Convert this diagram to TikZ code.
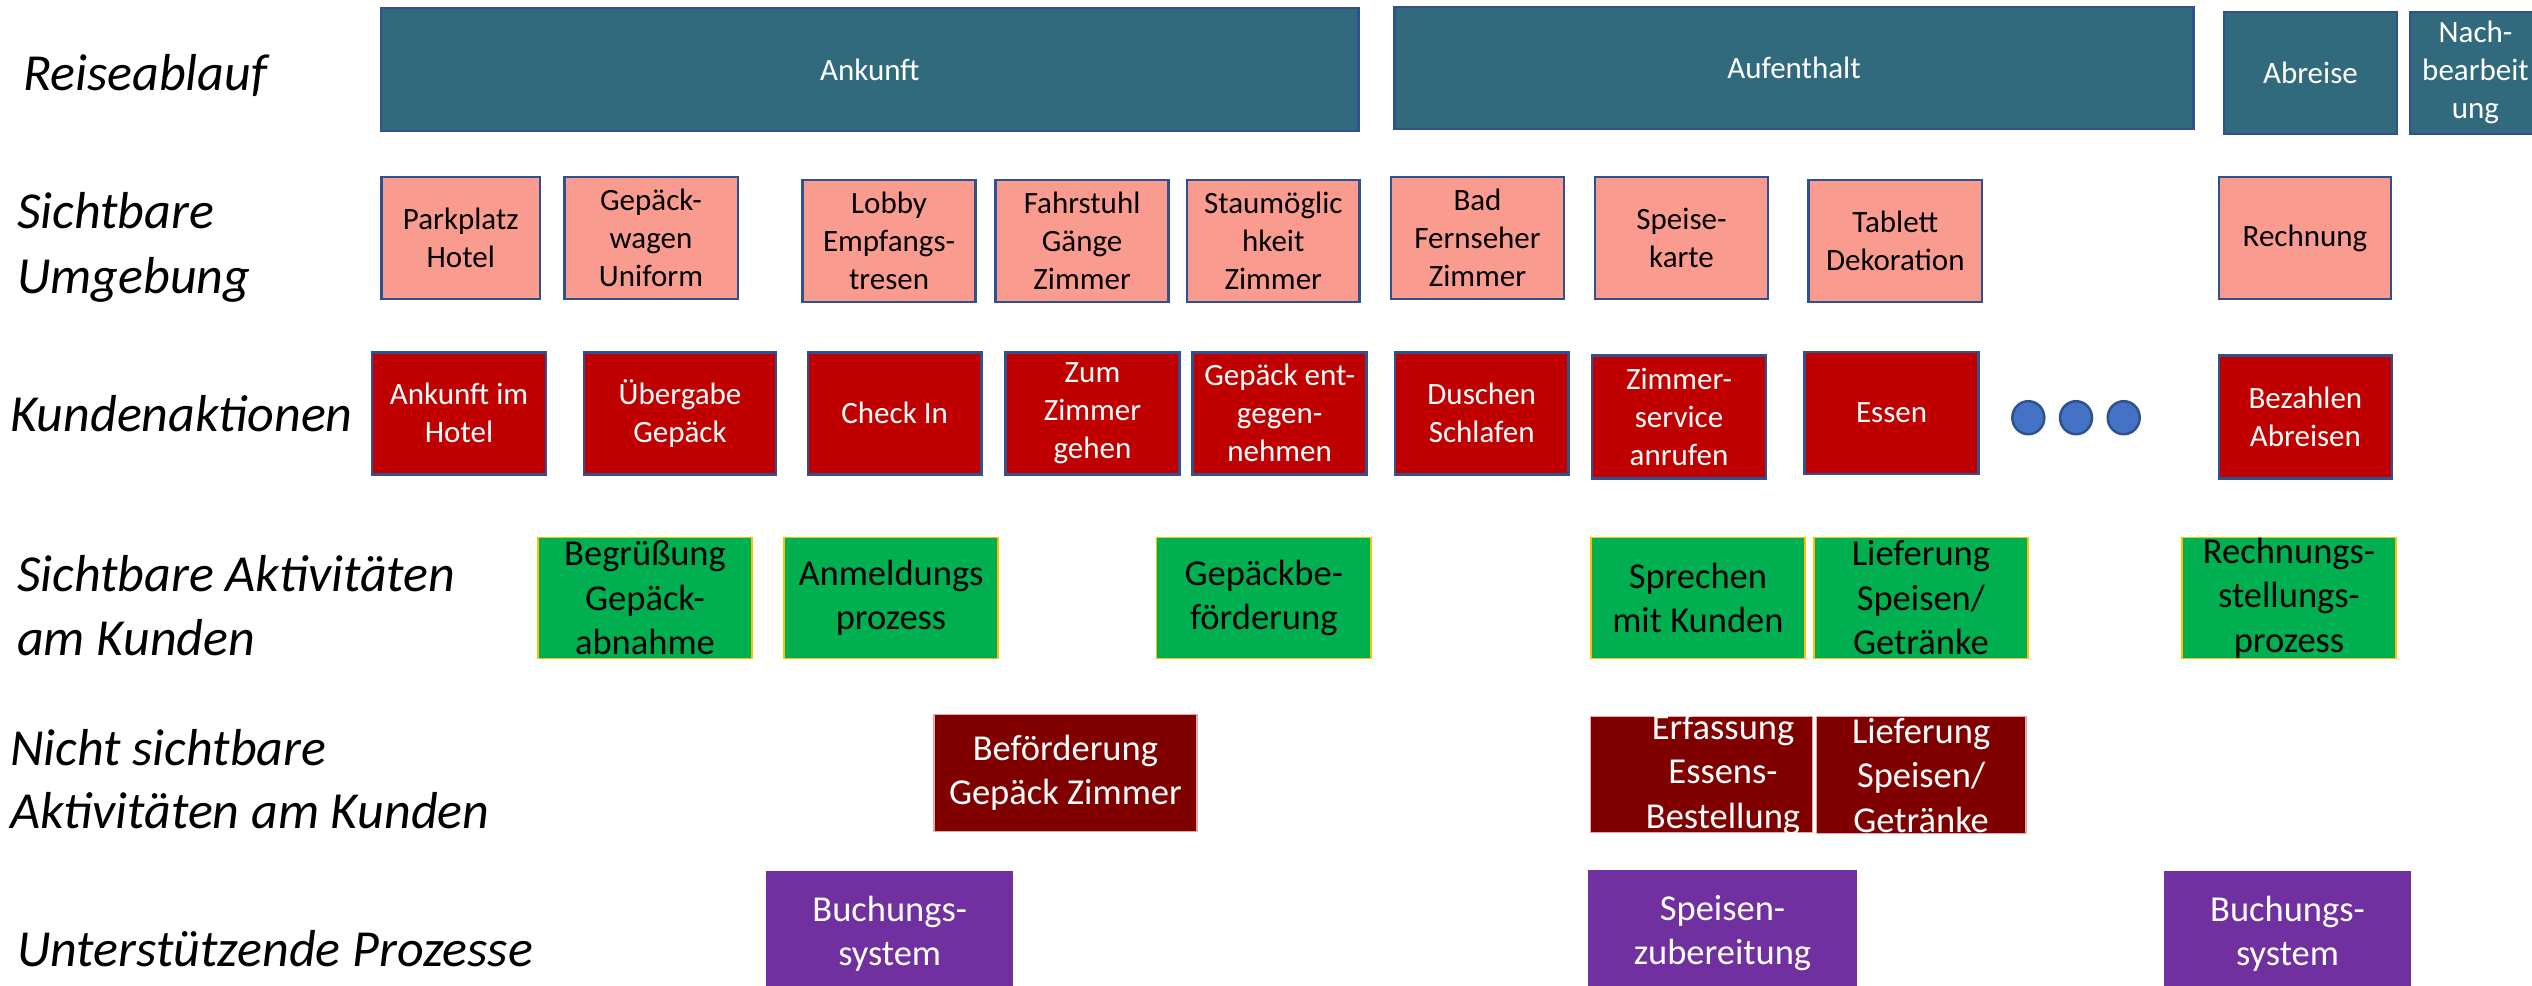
\documentclass[tikz,border=0pt]{standalone}
\usepackage{fontspec}
\setmainfont{Carlito}
\usetikzlibrary{shapes.geometric}
\definecolor{teal1}{RGB}{50,106,125}
\definecolor{bordblue}{RGB}{47,82,143}
\definecolor{salmon1}{RGB}{250,155,143}
\definecolor{red1}{RGB}{192,0,0}
\definecolor{green1}{RGB}{0,176,80}
\definecolor{gold1}{RGB}{255,192,0}
\definecolor{dred}{RGB}{128,0,0}
\definecolor{dredline}{RGB}{225,170,170}
\definecolor{purp}{RGB}{112,48,160}
\definecolor{dotblue}{RGB}{68,114,196}
\tikzset{
  box/.style={rectangle, inner sep=0pt, outer sep=0pt, align=center, line width=2.5pt},
  sz/.style 2 args={minimum width=#1pt, minimum height=#2pt},
  smallfont/.style={font=\fontsize{31}{38}\selectfont},
  bigfont/.style={font=\fontsize{36.5}{44.5}\selectfont},
  phase/.style={box, smallfont, fill=teal1, draw=bordblue, text=white},
  envbox/.style={box, smallfont, fill=salmon1, draw=bordblue, text=black},
  actbox/.style={box, smallfont, fill=red1, draw=bordblue, text=white},
  visbox/.style={box, bigfont, fill=green1, draw=gold1, line width=1.5pt, text=black},
  invbox/.style={box, bigfont, fill=dred, draw=dredline, line width=1.5pt, text=white},
  suppbox/.style={box, bigfont, fill=purp, text=white},
  rowlabel/.style={anchor=base west, inner sep=0pt, font=\fontsize{52}{64}\selectfont\itshape},
  dotnode/.style={ellipse, inner sep=0pt, minimum width=32pt, minimum height=33pt, fill=dotblue, draw=bordblue, line width=2.5pt}
}
\begin{document}
\begin{tikzpicture}[x=1pt,y=-1pt]
\useasboundingbox (0,0) rectangle (2532,985);
\fill[white] (0,0) rectangle (2532,985);

% Row labels
\node[rowlabel] (l1) at (23,90) {Reiseablauf};
\node[rowlabel] (l2a) at (17,228) {Sichtbare};
\node[rowlabel] (l2b) at (17,293) {Umgebung};
\node[rowlabel] (l3) at (10,431.7) {Kundenaktionen};
\node[rowlabel] (l4a) at (17,591.7) {Sichtbare Aktivitäten};
\node[rowlabel] (l4b) at (17,655) {am Kunden};
\node[rowlabel] (l5a) at (10,765) {Nicht sichtbare};
\node[rowlabel] (l5b) at (10,828) {Aktivitäten am Kunden};
\node[rowlabel] (l6) at (17,966.7) {Unterstützende Prozesse};

% Row 1: Reiseablauf
\node[phase, sz={977.5}{123}] (ankunft) at (869.75,69.5) {Ankunft};
\node[phase, sz={798.7}{122.3}] (aufenthalt) at (1794,67.9) {Aufenthalt};
\node[phase, sz={173.2}{122.3}] (abreise) at (2310.4,72.9) {Abreise};
\node[phase, sz={131}{122.3}] (nach) at (2475.5,72.9) {Nach-\\bearbeit\\ung};

% Row 2: Sichtbare Umgebung
\node[envbox, sz={158.5}{122}] (parkplatz) at (460.8,238) {Parkplatz\\Hotel};
\node[envbox, sz={173.5}{122}] (wagen) at (651,238) {Gepäck-\\wagen\\Uniform};
\node[envbox, sz={173.2}{122}] (lobby) at (889.1,241) {Lobby\\Empfangs-\\tresen};
\node[envbox, sz={172.8}{122}] (fahrstuhl) at (1082.1,241) {Fahrstuhl\\Gänge\\Zimmer};
\node[envbox, sz={172.8}{122}] (stau) at (1273.3,241) {Staumöglic\\hkeit\\Zimmer};
\node[envbox, sz={173}{122}] (bad) at (1477.5,238) {Bad\\Fernseher\\Zimmer};
\node[envbox, sz={173}{122}] (karte) at (1681.5,238) {Speise-\\karte};
\node[envbox, sz={173.4}{122}] (tablett) at (1895.3,241) {Tablett\\Dekoration};
\node[envbox, sz={172}{122}] (rechnung) at (2305,238) {Rechnung};

% Row 3: Kundenaktionen
\node[actbox, sz={174}{122}] (ankunftim) at (459,413.3) {Ankunft im\\Hotel};
\node[actbox, sz={192}{122}] (uebergabe) at (680,413.3) {Übergabe\\Gepäck};
\node[actbox, sz={173.4}{122}] (checkin) at (894.7,413.3) {Check In};
\node[actbox, sz={173.9}{122}] (zumzimmer) at (1092.5,413.3) {Zum\\Zimmer\\gehen};
\node[actbox, sz={173.9}{122}] (entgegen) at (1279.6,413.3) {Gepäck ent-\\gegen-\\nehmen};
\node[actbox, sz={173.9}{122}] (duschen) at (1481.7,413.3) {Duschen\\Schlafen};
\node[actbox, sz={174}{122.6}] (service) at (1679,417) {Zimmer-\\service\\anrufen};
\node[actbox, sz={173.8}{122}] (essen) at (1891.6,413) {Essen};
\node[dotnode] (dot1) at (2028.3,417.7) {};
\node[dotnode] (dot2) at (2076,417.7) {};
\node[dotnode] (dot3) at (2123.7,417.7) {};
\node[actbox, sz={173.3}{122.6}] (bezahlen) at (2305.4,417) {Bezahlen\\Abreisen};

% Row 4: Sichtbare Aktivitaeten
\node[visbox, sz={214}{120.6}] (begruessung) at (645,598) {Begrüßung\\Gepäck-\\abnahme};
\node[visbox, sz={214}{120.6}] (anmeldung) at (891,598) {Anmeldungs\\prozess};
\node[visbox, sz={214.5}{120.6}] (gepbef) at (1263.75,598) {Gepäckbe-\\förderung};
\node[visbox, sz={213.7}{120.6}] (sprechen) at (1697.9,598) {Sprechen\\mit Kunden};
\node[visbox, sz={214.3}{120.6}] (lieferung) at (1920.9,598) {Lieferung\\Speisen/\\Getränke};
\node[visbox, sz={214}{120.6}] (rechnst) at (2289,598) {Rechnungs-\\stellungs-\\prozess};

% Row 5: Nicht sichtbare Aktivitaeten
\node[invbox, sz={263.3}{117}] (befoerderung) at (1065.4,772.8) {Beförderung\\Gepäck Zimmer};
\node[invbox, sz={221.6}{116.4}] (erfassung) at (1701.5,774.5) {};
\node[text=white, bigfont, align=center, inner sep=0pt] (erfassungtxt) at (1723,774.5) {Erfassung\\Essens-\\Bestellung};
\node[invbox, sz={209.3}{117}] (lieferung2) at (1921.1,775.2) {Lieferung\\Speisen/\\Getränke};

% Row 6: Unterstuetzende Prozesse
\node[suppbox, sz={246.7}{126}] (buchung1) at (889.7,934) {Buchungs-\\system};
\node[suppbox, sz={269}{126}] (speisen) at (1722.5,933) {Speisen-\\zubereitung};
\node[suppbox, sz={247}{126}] (buchung2) at (2287.5,934) {Buchungs-\\system};
\end{tikzpicture}
\end{document}
